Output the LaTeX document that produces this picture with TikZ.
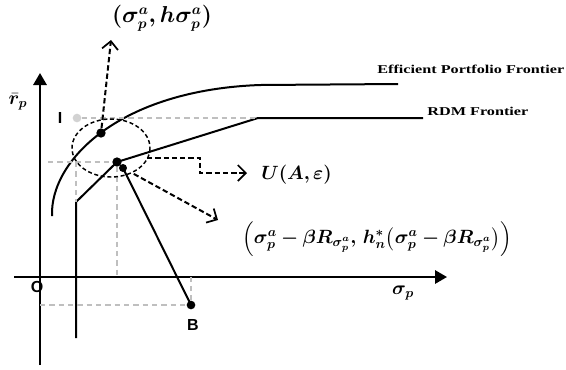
\documentclass[tikz,border=0pt]{standalone}
\usepackage{amsmath,amssymb,bm}
\usepackage{fontspec}
\setmainfont{Liberation Serif}
\setsansfont{Liberation Sans}
\usetikzlibrary{positioning,arrows.meta,calc}

\begin{document}
\begin{tikzpicture}[x=0.75pt,y=-0.75pt,font=\small,
  axis/.style={line width=1.6pt,-{Triangle[length=9pt,width=10pt]}},
  solidline/.style={line width=1.5pt},
  guide/.style={gray!50,dash pattern=on 4pt off 3pt,line width=0.9pt},
  ptr/.style={dash pattern=on 4pt off 2.2pt,line width=1.5pt,-{Straight Barb[length=6pt,width=12pt,line width=1.3pt]}},
  dot/.style={circle,fill,inner sep=0pt,minimum size=#1}, dot/.default=7pt,
  tag/.style={font=\fontsize{9}{11}\selectfont\bfseries,xscale=1.35,inner sep=0pt},
  letter/.style={font=\sffamily\bfseries\large,inner sep=0pt},
  formula/.style={font=\fontsize{14.5}{16}\selectfont,inner sep=0pt}]
\useasboundingbox (0,0) rectangle (566,369);
% axes
\coordinate (ybot) at (40,365); \coordinate (ytop) at (40,73);
\coordinate (xleft) at (14,277); \coordinate (xright) at (447,277);
\draw[axis] (ybot) -- (ytop);
\draw[axis] (xleft) -- (xright);
% points
\node[dot] (sa) at (101,133) {};
\node[dot] (kink) at (117,162) {};
\node[dot=6pt] (kb) at (123,168) {};
\node[dot=6.5pt] (B) at (191,305) {};
\node[dot=6.5pt,fill=gray!35] (I) at (77,118) {};
\coordinate (rdmlow) at (76,338); \coordinate (rdmstart) at (76,202);
\coordinate (rdmbend) at (258,118); \coordinate (rdmend) at (423,118);
% frontiers
\draw[solidline] (52,216) .. controls (50,160) and (120,90) .. (260,85) -- (398,84);
\draw[solidline] (rdmlow) -- (rdmstart) -- (kink.center) -- (rdmbend) -- (rdmend);
\draw[solidline] (kb.center) -- (B.center);
% guides
\coordinate (hl) at (48,162); \coordinate (vk) at (76,162);
\coordinate (kx) at (117,277); \coordinate (bx) at (191,277); \coordinate (by) at (40,305);
\foreach \a/\b in {I/rdmbend,hl/kink,vk/rdmstart,kink/kx,by/B,B/bx} \draw[guide] (\a) -- (\b);
\draw[dash pattern=on 3pt off 2pt,line width=1.1pt] (111,148) ellipse [x radius=39, y radius=29];
% pointers
\coordinate (uptip) at (111,40);
\coordinate (uout) at (147,158); \coordinate (utip) at (247,173);
\coordinate (dtip) at (218,220);
\draw[ptr] (sa) -- (uptip);
\draw[ptr] (uout) -- (200,158) -- (200,173) -- (utip);
\draw[ptr,shorten <=6pt] (kb) -- (dtip);
% labels
\node[formula,font=\fontsize{16}{18}\selectfont] (lsa) at (162,18) {$\bm{(\sigma_p^a,h\sigma_p^a)}$};
\node[formula,anchor=west] (lu) at (261,175) {$\bm{U(A,\varepsilon)}$};
\node[formula] (lb) at (377,239) {$\bm{\left(\sigma_p^a-\beta R_{\sigma_p^a},\,h_n^*\bigl(\sigma_p^a-\beta R_{\sigma_p^a}\bigr)\right)}$};
\node[tag,anchor=west] (eff) at (377,69) {Efficient Portfolio Frontier};
\node[tag,anchor=west] (rdm) at (427,111) {RDM Frontier};
\node[letter] (li) at (60,118) {I};
\node[letter] (lo) at (37,287) {O};
\node[letter] (lbb) at (193,325) {B};
\node[formula] (lr) at (18,102) {$\bm{\bar r_p}$};
\node[formula] (ls) at (403,293) {$\bm{\sigma_p}$};
\end{tikzpicture}
\end{document}
